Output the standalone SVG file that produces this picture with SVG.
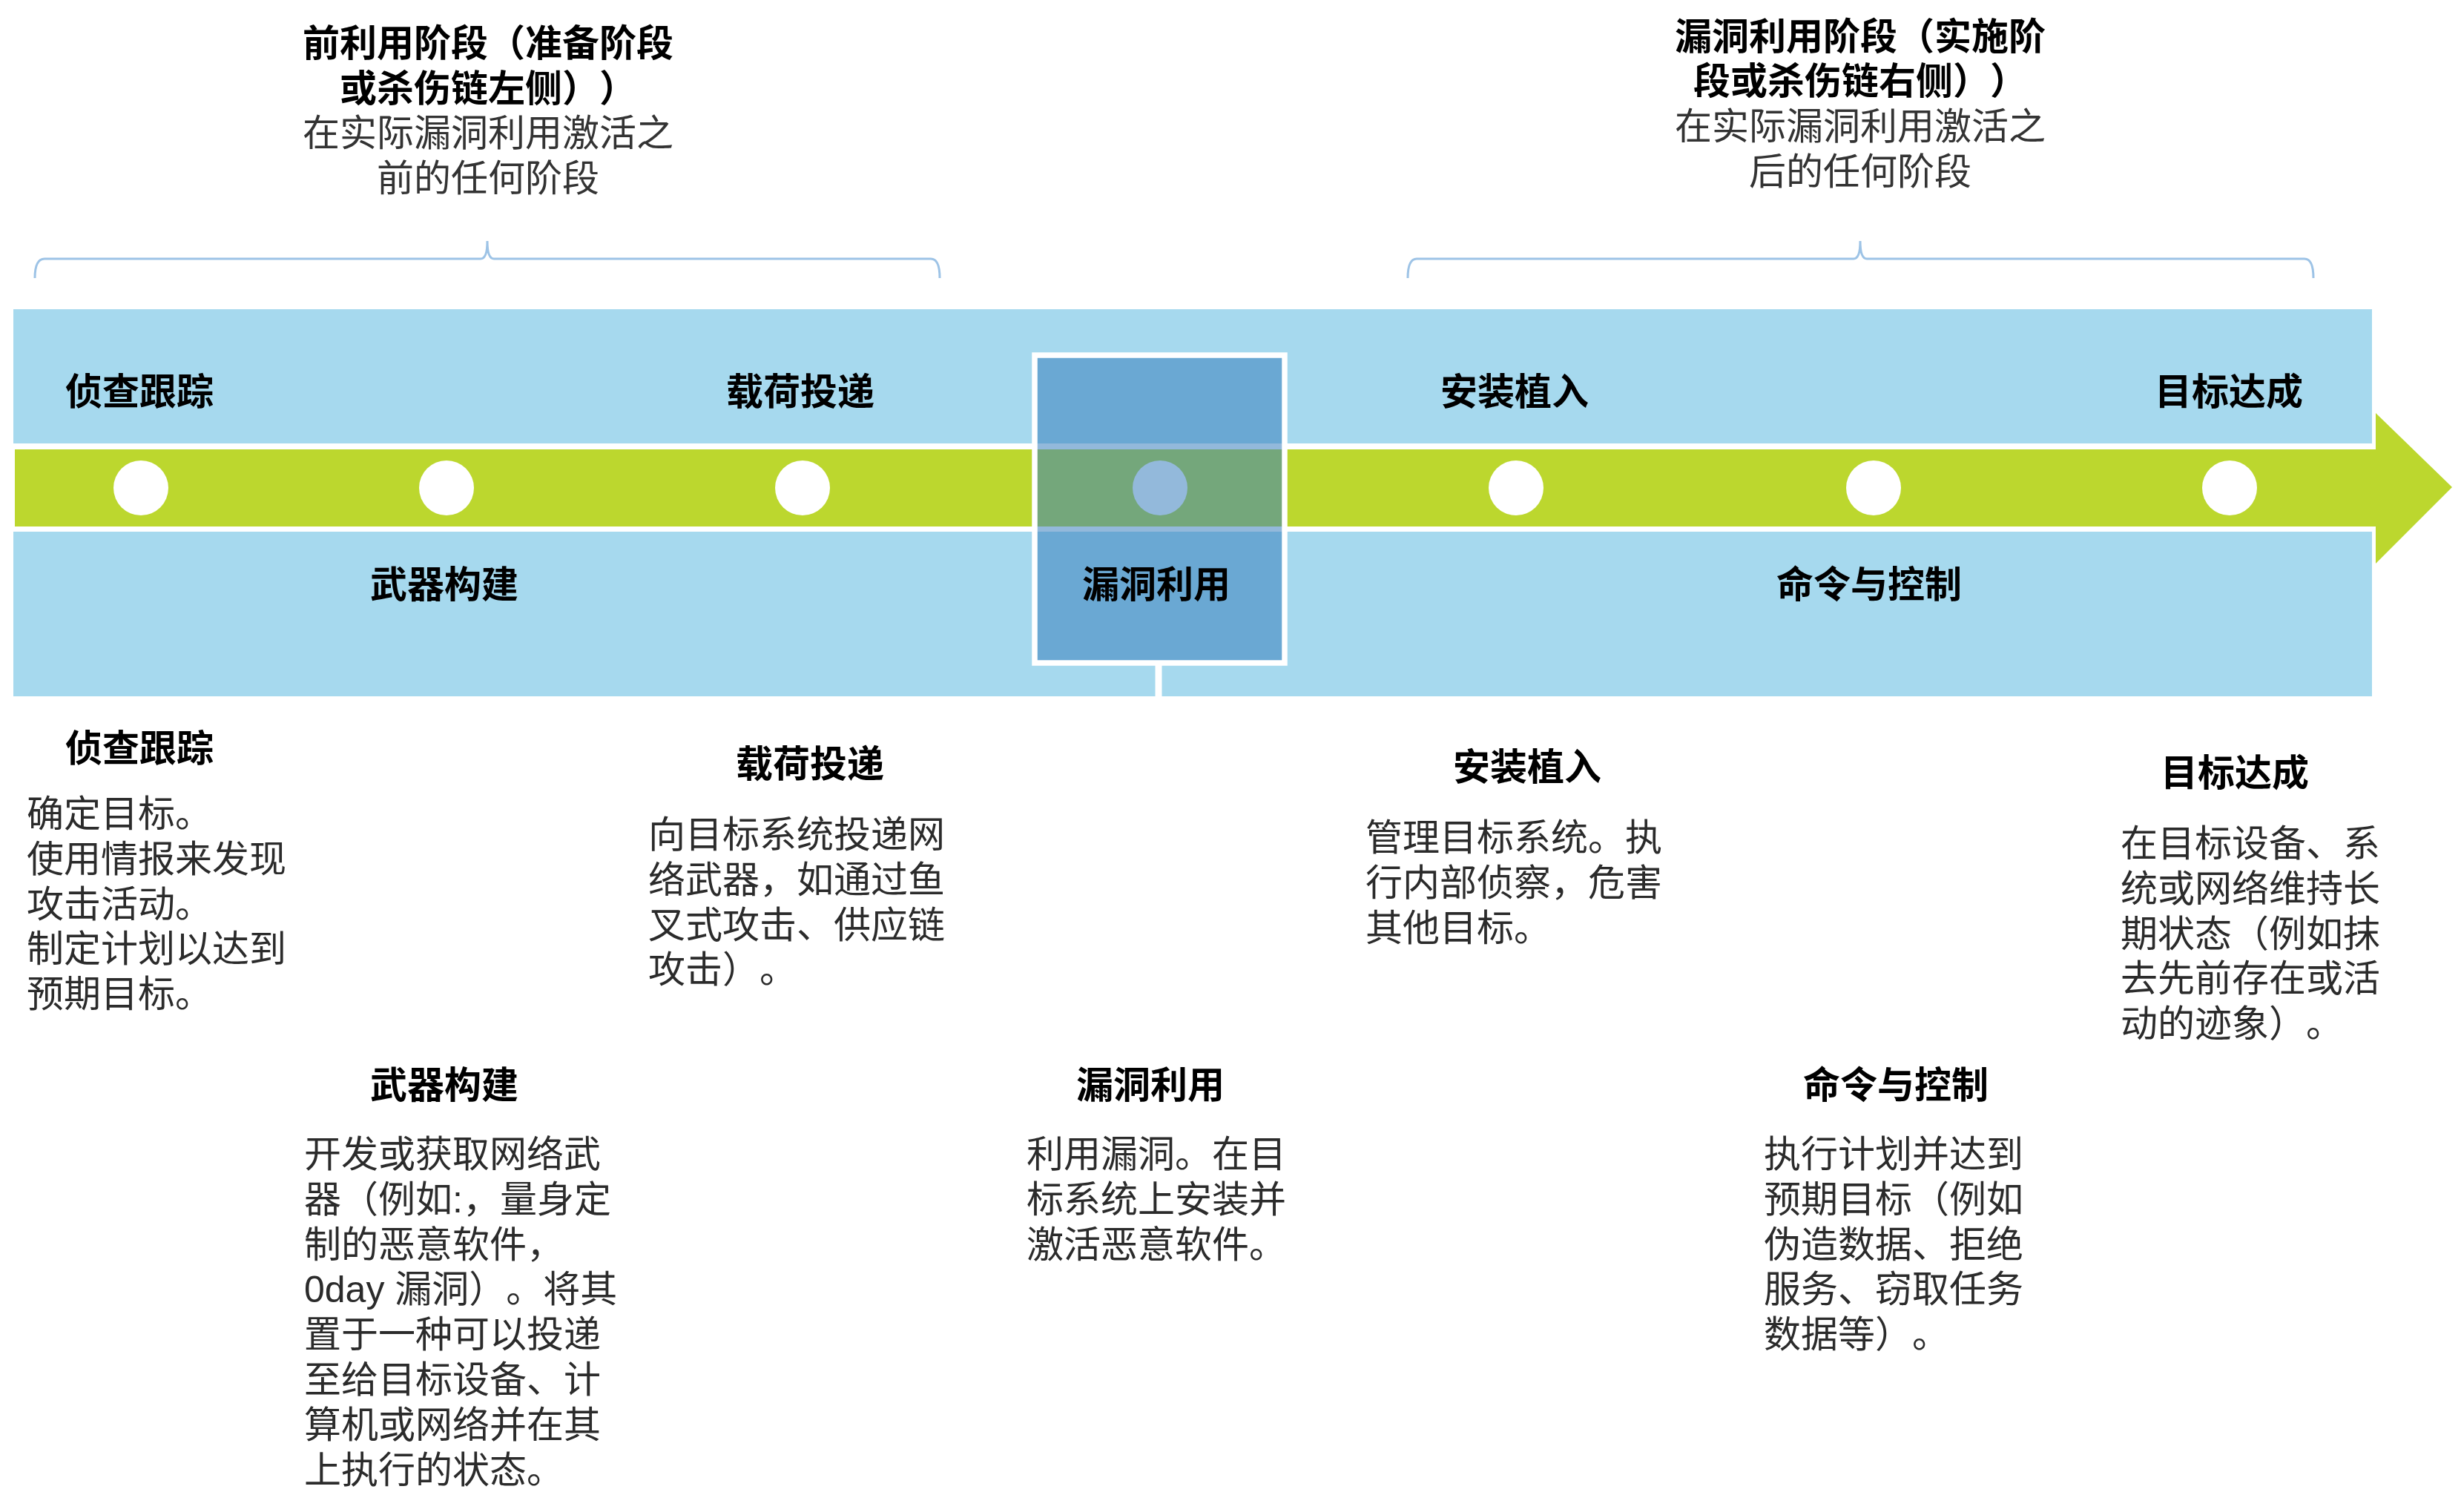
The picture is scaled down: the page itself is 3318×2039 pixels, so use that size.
<svg xmlns="http://www.w3.org/2000/svg" width="3318" height="2039" viewBox="0 0 3318 2039">
<style>
text{font-family:"Liberation Sans","Noto Sans CJK SC",sans-serif;font-size:50px;text-spacing-trim:space-all}
.h{font-weight:700;fill:#000;text-anchor:middle}
.b{fill:#2b2b2b}
.t{fill:#333;text-anchor:middle}
.band{fill:#a6d9ee}
.dot{fill:#fff}
.brace{fill:none;stroke:#9dc3e6;stroke-width:3}
</style>
<rect width="3318" height="2039" fill="#fff"/>
<g id="phase-left">
<path class="brace" d="M47,375 Q47,349 60,349 L648,349 Q657,349 657,325 Q657,349 666,349 L1255,349 Q1267,349 1267,375"/>
<text class="h" x="658" y="76">前利用阶段（准备阶段</text>
<text class="h" x="658" y="137">或杀伤链左侧））</text>
<text class="t" x="658" y="197">在实际漏洞利用激活之</text>
<text class="t" x="658" y="258">前的任何阶段</text>
</g>
<g id="phase-right">
<path class="brace" d="M1898,375 Q1898,349 1910,349 L2499,349 Q2508,349 2508,325 Q2508,349 2517,349 L3107,349 Q3119,349 3119,375"/>
<text class="h" x="2508" y="67">漏洞利用阶段（实施阶</text>
<text class="h" x="2508" y="127">段或杀伤链右侧））</text>
<text class="t" x="2508" y="188">在实际漏洞利用激活之</text>
<text class="t" x="2508" y="249">后的任何阶段</text>
</g>
<g id="timeline">
<rect class="band" x="18" y="417" width="3180" height="181"/>
<rect class="band" x="18" y="717" width="3180" height="222"/>
<polygon fill="#bcd72e" points="20,606 3203,606 3203,557 3306,657 3203,760 3203,710 20,710"/>
<circle class="dot" cx="190" cy="658" r="37"/>
<circle class="dot" cx="602" cy="658" r="37"/>
<circle class="dot" cx="1082" cy="658" r="37"/>
<circle class="dot" cx="1564" cy="658" r="37"/>
<circle class="dot" cx="2044" cy="658" r="37"/>
<circle class="dot" cx="2526" cy="658" r="37"/>
<circle class="dot" cx="3006" cy="658" r="37"/>
</g>
<g id="exploit-box">
<rect x="1395" y="479" width="337" height="415" fill="#377dbc" fill-opacity="0.54" stroke="#fff" stroke-width="7.5"/>
</g>
<g id="connectors">
<line x1="1562" y1="897" x2="1562" y2="939" stroke="#fff" stroke-width="9"/>
</g>
<g id="band-labels">
<text class="h" x="188" y="546">侦查跟踪</text>
<text class="h" x="1079" y="546">载荷投递</text>
<text class="h" x="2042" y="546">安装植入</text>
<text class="h" x="3005" y="546">目标达成</text>
<text class="h" x="599" y="806">武器构建</text>
<text class="h" x="1559" y="806">漏洞利用</text>
<text class="h" x="2520" y="806">命令与控制</text>
</g>
<g id="desc-recon">
<text class="h" x="188" y="1027">侦查跟踪</text>
<text class="b" x="36" y="1115">确定目标。<tspan x="36" dy="60.8">使用情报来发现</tspan><tspan x="36" dy="60.8">攻击活动。</tspan><tspan x="36" dy="60.8">制定计划以达到</tspan><tspan x="36" dy="60.8">预期目标。</tspan></text>
</g>
<g id="desc-weapon">
<text class="h" x="599" y="1481">武器构建</text>
<text class="b" x="410" y="1574">开发或获取网络武<tspan x="410" dy="60.8">器（例如:，量身定</tspan><tspan x="410" dy="60.8">制的恶意软件，</tspan><tspan x="410" dy="60.8">0day 漏洞）。将其</tspan><tspan x="410" dy="60.8">置于一种可以投递</tspan><tspan x="410" dy="60.8">至给目标设备、计</tspan><tspan x="410" dy="60.8">算机或网络并在其</tspan><tspan x="410" dy="60.8">上执行的状态。</tspan></text>
</g>
<g id="desc-delivery">
<text class="h" x="1092" y="1048">载荷投递</text>
<text class="b" x="874" y="1143">向目标系统投递网<tspan x="874" dy="60.8">络武器，如通过鱼</tspan><tspan x="874" dy="60.8">叉式攻击、供应链</tspan><tspan x="874" dy="60.8">攻击）。</tspan></text>
</g>
<g id="desc-exploit">
<text class="h" x="1551" y="1481">漏洞利用</text>
<text class="b" x="1384" y="1574">利用漏洞。在目<tspan x="1384" dy="60.8">标系统上安装并</tspan><tspan x="1384" dy="60.8">激活恶意软件。</tspan></text>
</g>
<g id="desc-install">
<text class="h" x="2059" y="1052">安装植入</text>
<text class="b" x="1841" y="1147">管理目标系统。执<tspan x="1841" dy="60.8">行内部侦察，危害</tspan><tspan x="1841" dy="60.8">其他目标。</tspan></text>
</g>
<g id="desc-c2">
<text class="h" x="2556" y="1481">命令与控制</text>
<text class="b" x="2378" y="1574">执行计划并达到<tspan x="2378" dy="60.8">预期目标（例如</tspan><tspan x="2378" dy="60.8">伪造数据、拒绝</tspan><tspan x="2378" dy="60.8">服务、窃取任务</tspan><tspan x="2378" dy="60.8">数据等）。</tspan></text>
</g>
<g id="desc-objective">
<text class="h" x="3013" y="1060">目标达成</text>
<text class="b" x="2859" y="1155">在目标设备、系<tspan x="2859" dy="60.8">统或网络维持长</tspan><tspan x="2859" dy="60.8">期状态（例如抹</tspan><tspan x="2859" dy="60.8">去先前存在或活</tspan><tspan x="2859" dy="60.8">动的迹象）。</tspan></text>
</g>
</svg>
